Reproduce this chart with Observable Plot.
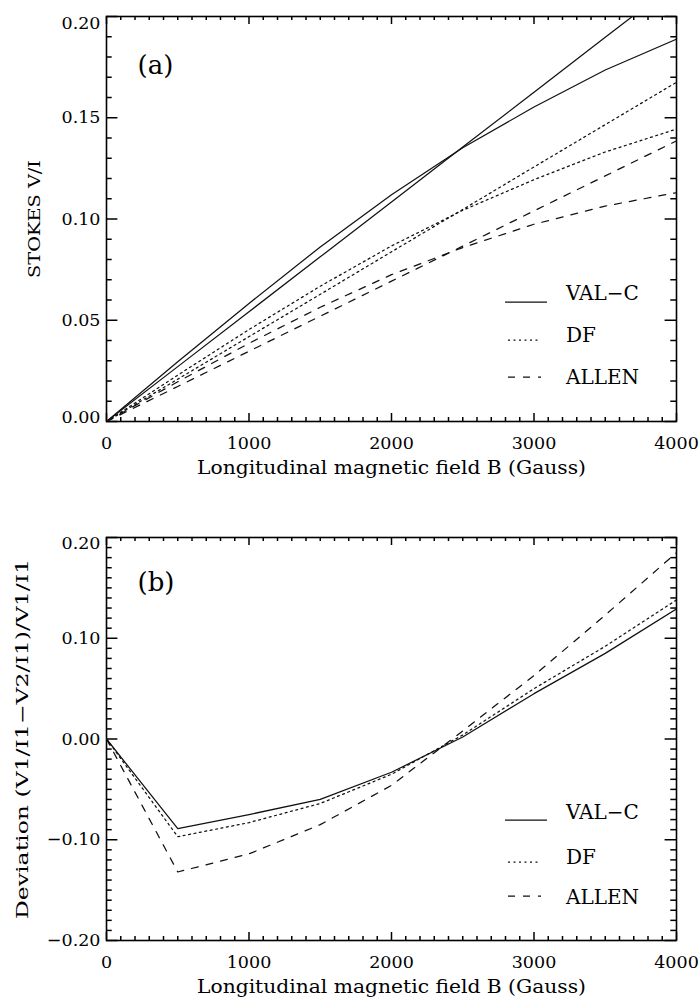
<!DOCTYPE html>
<html>
<head>
<meta charset="utf-8">
<script src="https://cdn.jsdelivr.net/npm/d3@7"></script>
<script src="https://cdn.jsdelivr.net/npm/@observablehq/plot@0.6"></script>
<style>
  html, body { margin: 0; padding: 0; background: #fff; }
  #chart svg { display: block; }
</style>
</head>
<body>
<div id="chart"></div>
<script>
// ---- data ----
const fieldB = [0, 500, 1000, 1500, 2000, 2500, 3000, 3500, 4000];

// panel (a): Stokes V/I, weak-field (straight) and full (curved) for each model
const valcLinear  = [0, 0.0271, 0.0542, 0.0813, 0.1084, 0.1355, 0.1626, 0.1897, 0.2168];
const valcFull    = [0, 0.0295, 0.0583, 0.0862, 0.1120, 0.1352, 0.1553, 0.1736, 0.1888];
const dfLinear    = [0, 0.0209, 0.0419, 0.0628, 0.0838, 0.1047, 0.1257, 0.1466, 0.1675];
const dfFull      = [0, 0.0229, 0.0454, 0.0668, 0.0867, 0.1043, 0.1194, 0.1331, 0.1444];
const allenLinear = [0, 0.0173, 0.0347, 0.0520, 0.0693, 0.0866, 0.1040, 0.1213, 0.1386];
const allenFull   = [0, 0.0196, 0.0386, 0.0564, 0.0725, 0.0859, 0.0974, 0.1064, 0.1130];

// panel (b): deviation
const valcDev  = [0, -0.089, -0.075, -0.060, -0.033, 0.002, 0.045, 0.085, 0.129];
const dfDev    = [0, -0.097, -0.083, -0.064, -0.035, 0.004, 0.050, 0.092, 0.138];
const allenDev = [0, -0.132, -0.114, -0.085, -0.046, 0.008, 0.063, 0.123, 0.185];

const models = ["VAL\u2212C", "DF", "ALLEN"];
const xTicks = [0, 1000, 2000, 3000, 4000];
const yTicksA = [0, 0.05, 0.10, 0.15, 0.20];
const yTicksB = [-0.20, -0.10, 0.00, 0.10, 0.20];
const xTitle = "Longitudinal magnetic field B (Gauss)";
const yTitleA = "STOKES V/I";
const yTitleB = "Deviation (V1/I1\u2212V2/I1)/V1/I1";
const panelLabels = ["(a)", "(b)"];

// ---- styles ----
const FONT = "DejaVu Serif";
const dashes = {"VAL\u2212C": null, "DF": "2,3.5", "ALLEN": "7,8"};
const W = 700, ML = 106, MR = 24;
const plotW = W - ML - MR;
const X0 = 0, X1 = 4000;

const table = (vals) => fieldB.map((b, i) => ({b, v: vals[i]}));

function panel({height, mt, mb, ydom, yTicks, yMinorStep, yTitle, yTitleDx, yTitleLen, label, labelDy, labelShift, series, legendY}) {
  const plotH = height - mt - mb;
  const ySpan = ydom[1] - ydom[0], xSpan = X1 - X0;
  const xMajLen = 8 / plotH * ySpan, xMinLen = 4 / plotH * ySpan;
  const yMajLen = 11.4 / plotW * xSpan, yMinLen = 5.7 / plotW * xSpan;
  const xMinor = d3.range(0, 4001, 100).filter(d => d % 1000 !== 0);
  const n = Math.round(ySpan / yMinorStep);
  const yMinor = d3.range(0, n + 1).map(i => ydom[0] + i * yMinorStep)
    .filter(v => !yTicks.some(t => Math.abs(t - v) < 1e-9));
  const tk = {stroke: "#000", strokeWidth: 1.5};
  const marks = [
    Plot.ruleX(xTicks, {x: d => d, y1: ydom[0], y2: ydom[0] + xMajLen, ...tk}),
    Plot.ruleX(xTicks, {x: d => d, y1: ydom[1] - xMajLen, y2: ydom[1], ...tk}),
    Plot.ruleX(xMinor, {x: d => d, y1: ydom[0], y2: ydom[0] + xMinLen, ...tk}),
    Plot.ruleX(xMinor, {x: d => d, y1: ydom[1] - xMinLen, y2: ydom[1], ...tk}),
    Plot.ruleY(yTicks, {y: d => d, x1: X0, x2: X0 + yMajLen, ...tk}),
    Plot.ruleY(yTicks, {y: d => d, x1: X1 - yMajLen, x2: X1, ...tk}),
    Plot.ruleY(yMinor, {y: d => d, x1: X0, x2: X0 + yMinLen, ...tk}),
    Plot.ruleY(yMinor, {y: d => d, x1: X1 - yMinLen, x2: X1, ...tk}),
    Plot.frame({stroke: "#000", strokeWidth: 1.6})
  ];
  for (const s of series) {
    marks.push(Plot.line(table(s.vals), {x: "b", y: "v", stroke: "#111", strokeWidth: 1.25,
      strokeDasharray: dashes[s.model], clip: true}));
  }
  marks.push(
    Plot.text([label], {frameAnchor: "top-left", textAnchor: "start", lineAnchor: "top", dx: 31, dy: labelDy, fontSize: 26, fontFamily: FONT}),
    Plot.text([xTitle], {frameAnchor: "bottom", lineAnchor: "middle", dy: 47, fontSize: 18, fontFamily: FONT}),
    Plot.text([yTitle], {frameAnchor: "left", textAnchor: "middle", lineAnchor: "middle", rotate: -90, dx: yTitleDx, fontSize: 17, fontFamily: FONT})
  );
  const svg = Plot.plot({
    width: W, height, marginTop: mt, marginBottom: mb, marginLeft: ML, marginRight: MR,
    style: {fontFamily: FONT, fontSize: "17.5px", background: "white", color: "black"},
    x: {domain: [X0, X1], ticks: xTicks, tickSize: 0, tickPadding: 15, tickFormat: d => String(d), label: null},
    y: {domain: ydom, ticks: yTicks, tickSize: 0, tickPadding: 6, tickFormat: d3.format(".2f"), label: null},
    marks
  });
  const fmt = d3.format(".2f");
  d3.select(svg).selectAll("text").each(function() {
    const t = this.textContent;
    // stretch titles to the reference widths
    if (t === xTitle) d3.select(this).attr("textLength", 389).attr("lengthAdjust", "spacingAndGlyphs");
    if (t === yTitle) d3.select(this).attr("textLength", yTitleLen).attr("lengthAdjust", "spacingAndGlyphs");
    // end labels kept inside the frame, as in the reference
    for (const [v, s] of labelShift) if (t === fmt(v)) d3.select(this).attr("dy", s);
  });
  // legend
  const g = d3.select(svg).append("g").attr("font-family", FONT).attr("font-size", 20).attr("text-anchor", "start");
  models.forEach((m, i) => {
    const [ty, ly] = legendY[i];
    g.append("line").attr("x1", m === "VAL\u2212C" ? 505 : 508).attr("x2", m === "VAL\u2212C" ? 547 : 541)
      .attr("y1", ly).attr("y2", ly).attr("stroke", "#111").attr("stroke-width", 1.25)
      .attr("stroke-dasharray", dashes[m]);
    g.append("text").attr("x", 566).attr("y", ty).attr("dy", "0.36em").text(m);
  });
  return svg;
}

const root = document.getElementById("chart");
root.append(panel({
  height: 500, mt: 16, mb: 79, ydom: [0, 0.2], yTicks: yTicksA, yMinorStep: 0.01,
  yTitle: yTitleA, yTitleDx: -72, yTitleLen: 118, label: panelLabels[0], labelDy: 39,
  labelShift: [[0.20, 7], [0, -4]],
  series: [
    {model: "VAL\u2212C", vals: valcLinear}, {model: "VAL\u2212C", vals: valcFull},
    {model: "DF", vals: dfLinear}, {model: "DF", vals: dfFull},
    {model: "ALLEN", vals: allenLinear}, {model: "ALLEN", vals: allenFull}
  ],
  legendY: [[293, 302], [335, 340], [377, 377]]
}));
root.append(panel({
  height: 499, mt: 37, mb: 59, ydom: [-0.2, 0.2], yTicks: yTicksB, yMinorStep: 0.01,
  yTitle: yTitleB, yTitleDx: -84, yTitleLen: 360, label: panelLabels[1], labelDy: 35,
  labelShift: [[0.20, 6]],
  series: [
    {model: "VAL\u2212C", vals: valcDev}, {model: "DF", vals: dfDev}, {model: "ALLEN", vals: allenDev}
  ],
  legendY: [[312, 320], [357, 362], [397, 396]]
}));
</script>
</body>
</html>
